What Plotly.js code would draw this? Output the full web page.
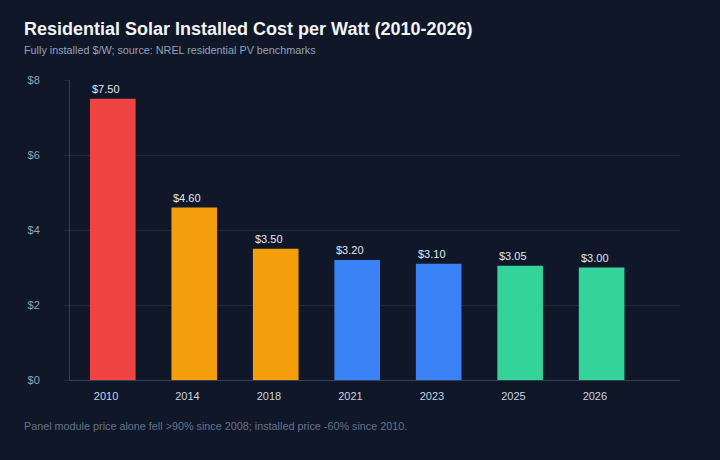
<!DOCTYPE html>
<html>
<head>
<meta charset="utf-8">
<script src="https://cdn.plot.ly/plotly-3.0.1.min.js"></script>
<style>
  html, body { margin: 0; padding: 0; background: #0f1729; }
  #chart { width: 720px; height: 460px; }
</style>
</head>
<body>
<div id="chart"></div>
<script>
// Installed residential PV cost, $/W
const years = ['2010', '2014', '2018', '2021', '2023', '2025', '2026'];
const costPerWatt = [7.50, 4.60, 3.50, 3.20, 3.10, 3.05, 3.00];
const barColors = ['#ef4444', '#f59e0b', '#f59e0b', '#3b82f6', '#3b82f6', '#34d399', '#34d399'];
const yTickVals = [0, 2, 4, 6, 8];
const yTickText = ['$0', '$2', '$4', '$6', '$8'];

const fontFamily = '"Liberation Sans", Arial, Helvetica, sans-serif';

const trace = {
  type: 'bar',
  x: years,
  y: costPerWatt,
  marker: { color: barColors, line: { width: 0 } },
  width: 0.56,
  offset: -0.197,
  hoverinfo: 'skip'
};

// value labels above each bar (category index as x position)
const valueLabels = years.map((yr, i) => ({
  x: i,
  y: costPerWatt[i],
  xref: 'x',
  yref: 'y',
  text: '$' + costPerWatt[i].toFixed(2),
  showarrow: false,
  yanchor: 'bottom',
  yshift: 2,
  font: { family: fontFamily, size: 11, color: '#e2e8f0' }
}));

const layout = {
  width: 720,
  height: 460,
  paper_bgcolor: '#0f1729',
  plot_bgcolor: '#0f1729',
  margin: { l: 70, r: 40, t: 80, b: 80 },
  showlegend: false,
  title: {
    text: 'Residential Solar Installed Cost per Watt (2010-2026)',
    font: { family: fontFamily, size: 18, color: '#f1f5f9', weight: 'bold' },
    xref: 'container',
    yref: 'container',
    x: 24 / 720,
    xanchor: 'left',
    y: 1 - 29 / 460,
    yanchor: 'middle'
  },
  xaxis: {
    type: 'category',
    range: [-0.442, 7.045],
    showgrid: false,
    showline: true,
    linecolor: '#334155',
    linewidth: 1,
    ticks: '',
    ticklabelstandoff: 6,
    tickfont: { family: fontFamily, size: 11, color: '#cbd5e1' },
    zeroline: false,
    fixedrange: true
  },
  yaxis: {
    range: [0, 8],
    tickvals: yTickVals,
    ticktext: yTickText,
    showgrid: true,
    gridcolor: '#1e293b',
    gridwidth: 1,
    showline: true,
    linecolor: '#334155',
    linewidth: 1,
    ticks: 'outside',
    ticklen: 5,
    tickcolor: '#1e293b',
    ticklabelstandoff: 22,
    tickfont: { family: fontFamily, size: 11, color: '#94a3b8' },
    zeroline: false,
    fixedrange: true
  },
  annotations: [
    {
      text: 'Fully installed $/W; source: NREL residential PV benchmarks',
      xref: 'paper', yref: 'paper',
      x: (22 - 70) / 610, xanchor: 'left',
      y: 1 + (80 - 50) / 300, yanchor: 'middle',
      showarrow: false,
      font: { family: fontFamily, size: 10.8, color: '#94a3b8' }
    },
    {
      text: 'Panel module price alone fell >90% since 2008; installed price -60% since 2010.',
      xref: 'paper', yref: 'paper',
      x: (22 - 70) / 610, xanchor: 'left',
      y: -(426 - 380) / 300, yanchor: 'middle',
      showarrow: false,
      font: { family: fontFamily, size: 10.8, color: '#64748b' }
    }
  ].concat(valueLabels)
};

Plotly.newPlot('chart', [trace], layout, { displayModeBar: false, staticPlot: true });
</script>
</body>
</html>
